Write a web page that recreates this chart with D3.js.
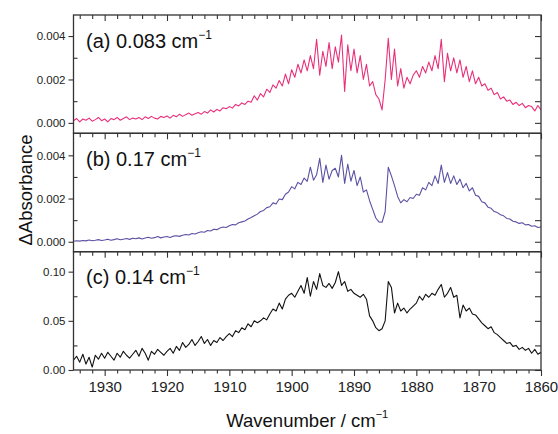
<!DOCTYPE html>
<html>
<head>
<meta charset="utf-8">
<script src="https://cdn.jsdelivr.net/npm/d3@7"></script>
<style>
  body { margin: 0; background: #fff; }
  text { font-family: "Liberation Sans", Arial, sans-serif; }
</style>
</head>
<body>
<div id="chart"></div>
<script>
// wavenumber grid: first point and spacing (cm-1)
var waveStart = 1935, waveStep = 0.5;

// (a) 0.083 cm-1, values in units of 1e-3
var specA = [
  0.10,0.20,0.05,0.18,0.12,0.22,0.08,0.15,0.25,0.10,
  0.18,0.05,0.20,0.15,0.25,0.12,0.20,0.28,0.15,0.22,
  0.18,0.25,0.15,0.28,0.20,0.30,0.22,0.18,0.30,0.25,
  0.32,0.22,0.35,0.28,0.40,0.30,0.38,0.45,0.35,0.42,
  0.48,0.40,0.52,0.45,0.60,0.50,0.62,0.55,0.70,0.65,
  0.75,0.68,0.85,0.78,0.92,0.85,1.00,0.95,1.25,1.05,
  1.35,1.20,1.55,1.40,1.75,1.60,1.95,1.70,2.25,1.80,
  2.45,2.10,2.70,2.30,2.90,2.40,3.10,2.50,3.85,2.20,
  3.30,2.60,3.70,2.50,3.50,2.80,4.05,1.45,3.60,2.40,
  3.40,2.30,3.10,2.00,2.70,1.70,1.90,1.30,1.10,0.60,
  2.00,3.90,2.00,3.40,1.70,2.50,1.60,2.10,1.80,2.20,
  2.40,2.10,2.60,2.30,2.80,2.40,3.10,2.50,3.85,1.90,
  3.20,2.40,3.00,2.30,2.90,2.10,2.60,1.90,2.40,1.80,
  2.10,1.70,1.80,1.50,1.60,1.30,1.40,1.10,1.20,1.00,
  1.05,0.85,0.95,0.80,0.90,0.70,0.80,0.75,0.55,0.80,
  0.60
];

// (b) 0.17 cm-1, values in units of 1e-3
var specB = [
  0.02,0.05,0.03,0.06,0.04,0.08,0.05,0.07,0.10,0.06,
  0.08,0.12,0.07,0.10,0.14,0.09,0.12,0.15,0.11,0.16,
  0.14,0.18,0.13,0.17,0.21,0.16,0.19,0.24,0.18,0.22,
  0.24,0.20,0.26,0.28,0.25,0.30,0.34,0.31,0.38,0.36,
  0.42,0.46,0.44,0.52,0.50,0.58,0.56,0.64,0.68,0.66,
  0.74,0.80,0.78,0.88,0.92,0.96,1.05,1.12,1.20,1.28,
  1.40,1.45,1.58,1.62,1.80,1.75,1.98,1.95,2.20,2.30,
  2.55,2.45,2.75,2.65,2.95,2.80,3.45,2.85,3.10,3.86,
  2.75,3.55,2.90,3.30,3.40,3.00,4.00,2.70,3.60,2.80,
  3.30,2.60,3.00,2.30,2.40,1.90,1.50,1.10,0.92,0.90,
  1.40,3.45,3.05,2.60,2.10,1.80,1.95,1.85,2.05,2.00,
  2.20,2.15,2.50,2.40,2.75,2.60,3.05,2.70,3.55,2.75,
  3.20,2.70,3.05,2.65,2.90,2.50,2.70,2.35,2.50,2.15,
  2.10,1.85,1.80,1.60,1.55,1.40,1.35,1.25,1.20,1.08,
  1.05,0.95,0.92,0.85,0.88,0.78,0.80,0.72,0.74,0.66,
  0.68
];

// (c) 0.14 cm-1
var specC = [
  0.010,0.014,0.008,0.016,0.006,0.013,0.003,0.015,0.011,0.017,
  0.012,0.018,0.014,0.010,0.017,0.013,0.019,0.015,0.012,0.016,
  0.020,0.014,0.022,0.017,0.010,0.019,0.016,0.021,0.018,0.015,
  0.019,0.022,0.017,0.024,0.020,0.028,0.023,0.026,0.031,0.025,
  0.029,0.034,0.027,0.031,0.025,0.030,0.028,0.033,0.030,0.034,
  0.037,0.034,0.040,0.038,0.043,0.041,0.047,0.044,0.050,0.048,
  0.050,0.053,0.051,0.057,0.062,0.060,0.068,0.062,0.072,0.076,
  0.078,0.074,0.080,0.086,0.078,0.094,0.075,0.090,0.082,0.098,
  0.086,0.084,0.088,0.083,0.089,0.100,0.086,0.090,0.080,0.082,
  0.078,0.076,0.074,0.077,0.072,0.055,0.050,0.043,0.040,0.042,
  0.050,0.090,0.084,0.058,0.068,0.060,0.063,0.058,0.062,0.065,
  0.068,0.075,0.071,0.077,0.074,0.078,0.076,0.082,0.087,0.074,
  0.078,0.084,0.074,0.076,0.053,0.066,0.060,0.063,0.057,0.056,
  0.052,0.048,0.045,0.042,0.044,0.038,0.036,0.033,0.030,0.027,
  0.028,0.024,0.025,0.021,0.023,0.020,0.022,0.017,0.021,0.016,
  0.018
];

var labels = ["(a) 0.083 cm", "(b) 0.17 cm", "(c) 0.14 cm"];
var colors = ["#e8307a", "#5b51a3", "#111111"];
var xTicks = [1930, 1920, 1910, 1900, 1890, 1880, 1870, 1860];

var W = 558, H = 434;
var left = 73.5, right = 541;
var tops = [15, 133.3, 251.7], bottom = 370;

var panels = [
  { data: specA.map(function (v) { return v * 1e-3; }), domain: [-0.00048, 0.00497],
    major: [0, 0.002, 0.004], minor: [0.001, 0.003], fmt: d3.format(".3f") },
  { data: specB.map(function (v) { return v * 1e-3; }), domain: [-0.00046, 0.00502],
    major: [0, 0.002, 0.004], minor: [0.001, 0.003], fmt: d3.format(".3f") },
  { data: specC, domain: [0, 0.1203],
    major: [0, 0.05, 0.10], minor: [0.025, 0.075], fmt: d3.format(".2f") }
];

var svg = d3.select("#chart")
    .append("svg")
    .attr("width", W)
    .attr("height", H);

var x = d3.scaleLinear().domain([1935, 1860]).range([left, right]);
var xMinor = d3.range(1934, 1859, -2).filter(function (d) { return d % 10 !== 0; });

panels.forEach(function (p, i) {
    var top = tops[i];
    var bot = i < 2 ? tops[i + 1] : bottom;
    var y = d3.scaleLinear().domain(p.domain).range([bot, top]);

    svg.append("clipPath").attr("id", "clip" + i)
        .append("rect")
        .attr("x", left).attr("y", top)
        .attr("width", right - left).attr("height", bot - top);

    var line = d3.line()
        .x(function (d, k) { return x(waveStart - k * waveStep); })
        .y(function (d) { return y(d); });

    svg.append("path")
        .datum(p.data)
        .attr("clip-path", "url(#clip" + i + ")")
        .attr("fill", "none")
        .attr("stroke", colors[i])
        .attr("stroke-width", 1.1)
        .attr("stroke-linejoin", "round")
        .attr("d", line);

    // left axis: major outward with labels
    var gl = svg.append("g")
        .attr("transform", "translate(" + left + ",0)")
        .call(d3.axisLeft(y).tickValues(p.major).tickSize(5).tickPadding(3).tickFormat(p.fmt));
    gl.select(".domain").remove();
    gl.selectAll("text").attr("font-size", "11.5px").attr("fill", "#222")
        .style("font-family", "'Liberation Sans', Arial, sans-serif");

    // left minor ticks (inward)
    var glm = svg.append("g")
        .attr("transform", "translate(" + left + ",0)")
        .call(d3.axisRight(y).tickValues(p.minor).tickSize(4).tickFormat(""));
    glm.select(".domain").remove();

    // right ticks inward
    var gr = svg.append("g")
        .attr("transform", "translate(" + right + ",0)")
        .call(d3.axisLeft(y).tickValues(p.major.concat(p.minor)).tickSize(6).tickFormat(""));
    gr.select(".domain").remove();

    // top ticks inward
    var gt = svg.append("g")
        .attr("transform", "translate(0," + top + ")")
        .call(d3.axisBottom(x).tickValues(xTicks).tickSize(6).tickFormat(""));
    gt.select(".domain").remove();
    var gtm = svg.append("g")
        .attr("transform", "translate(0," + top + ")")
        .call(d3.axisBottom(x).tickValues(xMinor).tickSize(4).tickFormat(""));
    gtm.select(".domain").remove();

    // frame
    svg.append("rect")
        .attr("x", left).attr("y", top)
        .attr("width", right - left).attr("height", bot - top)
        .attr("fill", "none")
        .attr("stroke", "#333")
        .attr("stroke-width", 1.3);

    // panel label
    var t = svg.append("text")
        .attr("x", 86)
        .attr("y", top + 32.5)
        .attr("font-size", "20px")
        .attr("fill", "#111")
        .text(labels[i]);
    t.append("tspan")
        .attr("dy", -9)
        .attr("font-size", "12px")
        .text("\u22121");
});

// bottom axis with labels
var gb = svg.append("g")
    .attr("transform", "translate(0," + bottom + ")")
    .call(d3.axisBottom(x).tickValues(xTicks).tickSize(6).tickPadding(5).tickFormat(d3.format("d")));
gb.select(".domain").remove();
gb.selectAll("text").attr("font-size", "15px").attr("fill", "#222")
    .style("font-family", "'Liberation Sans', Arial, sans-serif");
var gbm = svg.append("g")
    .attr("transform", "translate(0," + bottom + ")")
    .call(d3.axisBottom(x).tickValues(xMinor).tickSize(3.5).tickFormat(""));
gbm.select(".domain").remove();

svg.selectAll(".tick line").attr("stroke", "#333").attr("stroke-width", 1.1);

// axis titles
var xt = svg.append("text")
    .attr("x", (left + right) / 2)
    .attr("y", 426.5)
    .attr("text-anchor", "middle")
    .attr("font-size", "18.5px")
    .attr("fill", "#111")
    .text("Wavenumber / cm");
xt.append("tspan").attr("dy", -9).attr("font-size", "11px").text("\u22121");

svg.append("text")
    .attr("transform", "translate(32,190) rotate(-90)")
    .attr("text-anchor", "middle")
    .attr("font-size", "18.5px")
    .attr("fill", "#111")
    .text("\u0394Absorbance");
</script>
</body>
</html>
